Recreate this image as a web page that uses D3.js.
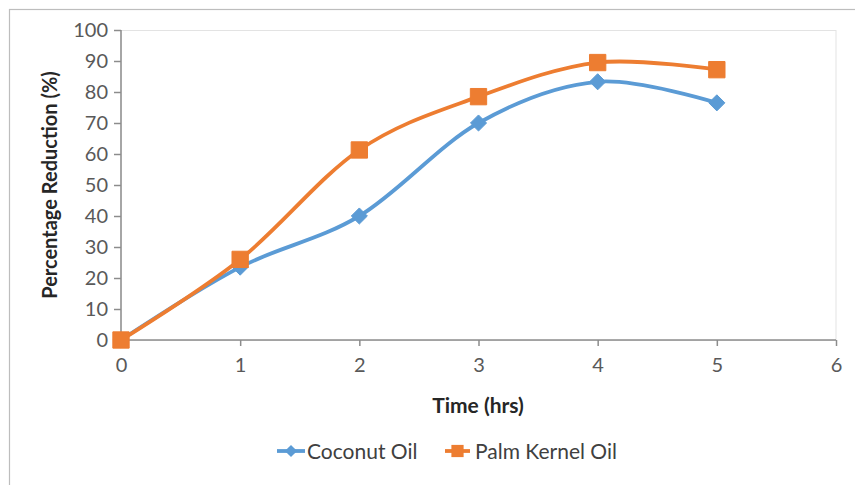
<!DOCTYPE html>
<html>
<head>
<meta charset="utf-8">
<script src="https://cdn.jsdelivr.net/npm/d3@7"></script>
<style>
  html, body { margin: 0; padding: 0; background: #fff; }
  svg { display: block; font-family: Lato, "Open Sans", sans-serif; }
</style>
</head>
<body>
<svg id="chart" width="855" height="485"></svg>
<script>
// Reduction over time for two oils
const times = [0, 1, 2, 3, 4, 5];
const coconutOil = [0, 23.5, 40, 70, 83.3, 76.5];
const palmKernelOil = [0, 26, 61.3, 78.5, 89.5, 87.2];
const xTicks = [0, 1, 2, 3, 4, 5, 6];
const yTicks = [0, 10, 20, 30, 40, 50, 60, 70, 80, 90, 100];
const seriesNames = ["Coconut Oil", "Palm Kernel Oil"];

const svg = d3.select("#chart");
const blue = "#5B9BD5", orange = "#ED7D31";

// chart frame (runs off the right and bottom edges)
svg.append("rect").attr("x", 9.5).attr("y", 9.5).attr("width", 900).attr("height", 600)
  .attr("fill", "#fff").attr("stroke", "#bdbdbd").attr("stroke-width", 1.2);

const plot = { left: 121, right: 836, top: 30, bottom: 340 };
const x = d3.scaleLinear().domain([0, 6]).range([plot.left, plot.right]);
const y = d3.scaleLinear().domain([0, 100]).range([plot.bottom, plot.top]);

// plot-area border
svg.append("rect").attr("x", plot.left).attr("y", plot.top + 0.5)
  .attr("width", plot.right - plot.left).attr("height", plot.bottom - plot.top)
  .attr("fill", "none").attr("stroke", "#e3e3e3").attr("stroke-width", 1);

// axes
const yAxis = svg.append("g").attr("transform", `translate(${plot.left},0)`)
  .call(d3.axisLeft(y).tickValues(yTicks).tickFormat(d3.format("d")).tickSize(7).tickPadding(6));
const xAxis = svg.append("g").attr("transform", `translate(0,${plot.bottom})`)
  .call(d3.axisBottom(x).tickValues(xTicks).tickFormat(d3.format("d")).tickSize(6).tickPadding(12));
[xAxis, yAxis].forEach(g => {
  g.select(".domain").attr("stroke", "#8c8c8c").attr("stroke-width", 1.5);
  g.selectAll(".tick line").attr("stroke", "#8c8c8c").attr("stroke-width", 1.5);
  g.selectAll(".tick text").attr("fill", "#595959").style("font-size", "20px")
    .style("font-family", "Lato, 'Open Sans', sans-serif");
});
xAxis.select(".domain").attr("d", `M${plot.left},0H${plot.right}`);
yAxis.select(".domain").attr("d", `M0,${plot.bottom}V${plot.top}`);

// axis titles
svg.append("text").attr("x", 478).attr("y", 413).attr("text-anchor", "middle")
  .attr("font-weight", "bold").attr("font-size", 21).attr("fill", "#262626")
  .text("Time (hrs)");
svg.append("text").attr("transform", `translate(57,185) rotate(-90)`)
  .attr("text-anchor", "middle").attr("font-weight", "bold").attr("font-size", 20)
  .attr("fill", "#262626").text("Percentage Reduction (%)");

// series
const line = d3.line().x((d, i) => x(times[i])).y(d => y(d)).curve(d3.curveCardinal.tension(0));
const series = [
  { name: seriesNames[0], values: coconutOil, color: blue, shape: d3.symbolDiamond2, size: 165 },
  { name: seriesNames[1], values: palmKernelOil, color: orange, shape: d3.symbolSquare2, size: 340 }
];
series.forEach(s => {
  svg.append("path").attr("d", line(s.values)).attr("fill", "none")
    .attr("stroke", s.color).attr("stroke-width", 3.8).attr("stroke-linejoin", "round");
});
series.forEach(s => {
  const sym = d3.symbol().type(s.shape).size(s.size);
  svg.append("g").selectAll("path").data(s.values).join("path")
    .attr("transform", (d, i) => `translate(${x(times[i])},${y(d)})`)
    .attr("d", sym).attr("fill", s.color).attr("stroke", s.color).attr("stroke-width", 1);
});

// legend
const legend = [
  { s: series[0], x0: 277, x1: 305, tx: 307, msize: 95 },
  { s: series[1], x0: 445, x1: 470, tx: 475, msize: 190 }
];
const ly = 451;
legend.forEach(l => {
  const g = svg.append("g");
  g.append("line").attr("x1", l.x0).attr("x2", l.x1).attr("y1", ly).attr("y2", ly)
    .attr("stroke", l.s.color).attr("stroke-width", 3.8);
  g.append("path").attr("transform", `translate(${(l.x0 + l.x1) / 2},${ly})`)
    .attr("d", d3.symbol().type(l.s.shape).size(l.msize)).attr("fill", l.s.color);
  g.append("text").attr("x", l.tx).attr("y", ly + 7.5).attr("font-size", 21)
    .attr("fill", "#404040").text(l.s.name);
});
</script>
</body>
</html>
